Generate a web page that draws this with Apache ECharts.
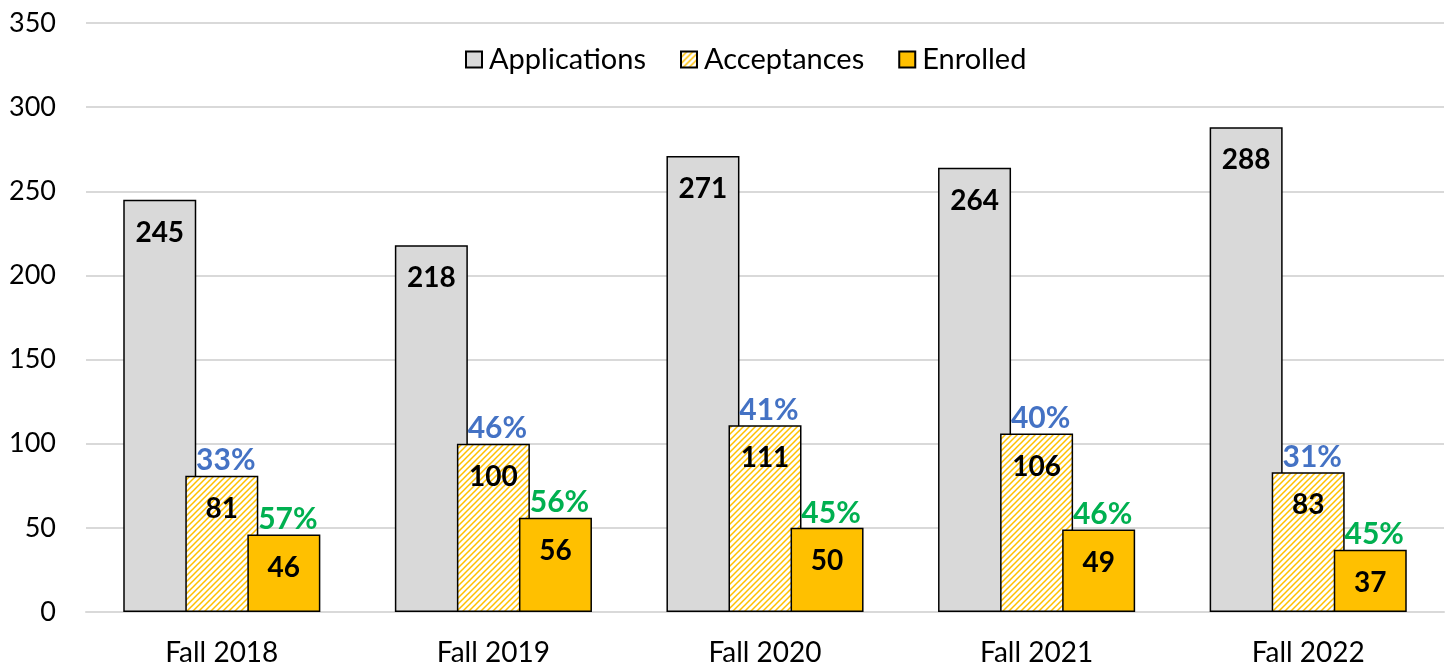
<!DOCTYPE html>
<html>
<head>
<meta charset="utf-8">
<script src="https://cdn.jsdelivr.net/npm/echarts@6/dist/echarts.min.js"></script>
<style>
  html, body { margin: 0; padding: 0; background: #fff; }
  #chart { width: 1450px; height: 667px; }
</style>
</head>
<body>
<div id="chart"></div>
<script>
// data
var categories = ['Fall 2018', 'Fall 2019', 'Fall 2020', 'Fall 2021', 'Fall 2022'];
var applications = [245, 218, 271, 264, 288];
var acceptances = [81, 100, 111, 106, 83];
var enrolled = [46, 56, 50, 49, 37];
var acceptRate = ['33%', '46%', '41%', '40%', '31%'];
var enrollRate = ['57%', '56%', '45%', '46%', '45%'];
var yTicks = [0, 50, 100, 150, 200, 250, 300, 350];

var FONT = 'Lato';

// diagonal hatch for acceptances
function makeHatch() {
  var c = document.createElement('canvas');
  c.width = 6; c.height = 6;
  var ctx = c.getContext('2d');
  ctx.fillStyle = '#ffffff';
  ctx.fillRect(0, 0, 6, 6);
  ctx.strokeStyle = '#FFC000';
  ctx.lineWidth = 1.5;
  ctx.beginPath();
  ctx.moveTo(-1, 7); ctx.lineTo(7, -1);
  ctx.moveTo(-4, 4); ctx.lineTo(4, -4);
  ctx.moveTo(2, 10); ctx.lineTo(10, 2);
  ctx.stroke();
  return c;
}
var hatch = { image: makeHatch(), repeat: 'repeat' };

// percent above the bar, value inside it
function twoLineLabel(rates, pctColor) {
  return {
    show: true,
    position: 'top',
    distance: 0,
    offset: [0, 65],
    formatter: function (p) {
      return '{p|' + rates[p.dataIndex] + '}\n{v|' + p.value + '}';
    },
    rich: {
      p: { fontFamily: FONT, fontSize: 30, fontWeight: 'bold', color: pctColor, lineHeight: 32, padding: [0, 0, 0, 8] },
      v: { fontFamily: FONT, fontSize: 28, fontWeight: 'bold', color: '#000', lineHeight: 64 }
    }
  };
}

var myChart = echarts.init(document.getElementById('chart'));
var option = {
  animation: false,
  grid: { left: 86, right: 6, top: 23, bottom: 55, containLabel: false },
  legend: {
    left: 460,
    top: 40,
    itemWidth: 16,
    itemHeight: 16,
    itemGap: 34,
    icon: 'rect',
    textStyle: { fontFamily: FONT, fontSize: 29, color: '#000', padding: [0, 0, 0, 2] },
    data: ['Applications', 'Acceptances', 'Enrolled']
  },
  xAxis: {
    type: 'category',
    data: categories,
    axisLine: { lineStyle: { color: '#D9D9D9', width: 2 } },
    axisTick: { show: false },
    axisLabel: { fontFamily: FONT, fontSize: 28, color: '#000', margin: 27 }
  },
  yAxis: {
    type: 'value',
    min: yTicks[0],
    max: yTicks[yTicks.length - 1],
    interval: 50,
    axisLine: { show: false },
    axisTick: { show: false },
    splitLine: { lineStyle: { color: '#D9D9D9', width: 2 } },
    axisLabel: { fontFamily: FONT, fontSize: 27, color: '#000', margin: 30 }
  },
  series: [
    {
      name: 'Applications',
      type: 'bar',
      data: applications,
      barWidth: 73,
      barGap: '-15%',
      itemStyle: { color: '#D9D9D9', borderColor: '#000', borderWidth: 1.5 },
      label: {
        show: true,
        position: 'insideTop',
        distance: 19,
        fontFamily: FONT, fontSize: 28, fontWeight: 'bold', color: '#000'
      }
    },
    {
      name: 'Acceptances',
      type: 'bar',
      data: acceptances,
      barWidth: 73,
      barGap: '-15%',
      itemStyle: { color: hatch, borderColor: '#000', borderWidth: 1.5 },
      label: twoLineLabel(acceptRate, '#4472C4')
    },
    {
      name: 'Enrolled',
      type: 'bar',
      data: enrolled,
      barWidth: 73,
      barGap: '-15%',
      itemStyle: { color: '#FFC000', borderColor: '#000', borderWidth: 1.5 },
      label: twoLineLabel(enrollRate, '#00B050')
    }
  ]
};
myChart.setOption(option);
</script>
</body>
</html>
